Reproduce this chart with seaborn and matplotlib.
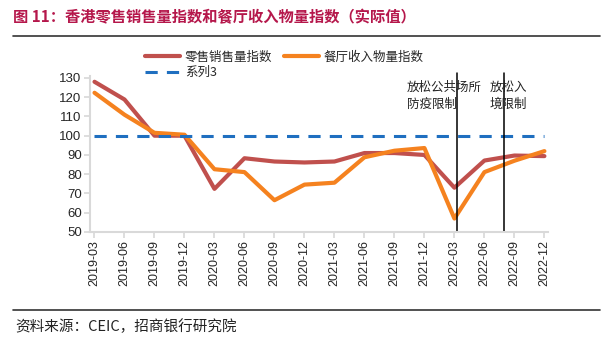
import numpy as np
import pandas as pd
import matplotlib
matplotlib.use("Agg")
import matplotlib.pyplot as plt
import seaborn as sns
from matplotlib.lines import Line2D

quarters = ["2019-03", "2019-06", "2019-09", "2019-12", "2020-03", "2020-06", "2020-09", "2020-12",
            "2021-03", "2021-06", "2021-09", "2021-12", "2022-03", "2022-06", "2022-09", "2022-12"]
retail = [128, 118.8, 100, 100, 72.4, 88.3, 86.6, 86.1, 86.6, 91, 91, 90, 73, 87.1, 89.7, 89.4]
restaurant = [122.3, 110.9, 101.5, 100.5, 82.6, 81.1, 66.5, 74.6, 75.6, 88.8, 92.2, 93.6, 57, 81.1, 87, 92]
series3 = [100] * 16
vlines = [12.1, 13.65]
names = ["零售销售量指数", "餐厅收入物量指数", "系列3"]

sns.set_theme(style="white")
plt.rcParams['font.family'] = ['Liberation Sans', 'Noto Sans CJK SC', 'DejaVu Sans']

fig = plt.figure(figsize=(6.09, 3.43), dpi=100)
W, H = 609, 343
ax = fig.add_axes([90 / W, 1 - 232 / H, (548 - 90) / W, (232 - 76) / H])

df = pd.DataFrame({"i": np.arange(len(quarters)), "retail": retail,
                   "restaurant": restaurant, "s3": series3})
c_red = "#C0504D"
c_org = "#F5821F"
c_blu = "#1F6FC0"
sns.lineplot(data=df, x="i", y="retail", ax=ax, color=c_red, lw=3)
sns.lineplot(data=df, x="i", y="restaurant", ax=ax, color=c_org, lw=3)
sns.lineplot(data=df, x="i", y="s3", ax=ax, color=c_blu, lw=2.2, linestyle=(0, (4, 3)))

for v in vlines:
    ax.plot([v, v], [50, 132.6], color="black", lw=1.1, clip_on=False)

ax.set_xlim(-0.15, 15.12)
ax.set_ylim(50, 131)
ax.set_yticks(range(50, 131, 10))
ax.set_xticks(range(len(quarters)))
ax.set_xticklabels(quarters, rotation=90, fontsize=9)
ax.tick_params(axis='y', labelsize=9.5, length=4, color="#D9D9D9", direction="out", left=True, pad=2)
ax.tick_params(axis='x', length=4, color="#D9D9D9", direction="out", bottom=True, pad=2)
ax.set_xlabel("")
ax.set_ylabel("")
for s in ["top", "right"]:
    ax.spines[s].set_visible(False)
for s in ["left", "bottom"]:
    ax.spines[s].set_color("#D9D9D9")
    ax.spines[s].set_linewidth(1.5)

cjk = ['Noto Sans CJK SC', 'DejaVu Sans']
ax.text(407 / W, 1 - 95.5 / H, "放松公共场所\n防疫限制", transform=fig.transFigure, fontsize=9,
        family=cjk, va="center", ha="left", linespacing=1.4, color="#222222")
ax.text(490 / W, 1 - 95.5 / H, "放松入\n境限制", transform=fig.transFigure, fontsize=9,
        family=cjk, va="center", ha="left", linespacing=1.4, color="#222222")

handles = [Line2D([], [], color=c_red, lw=3), Line2D([], [], color=c_blu, lw=2.2, linestyle=(0, (4, 3))),
           Line2D([], [], color=c_org, lw=3)]
labels = [names[0], names[2], names[1]]
fig.legend(handles, labels, loc="upper left", bbox_to_anchor=(136 / W, 1 - 42 / H), ncol=2,
           frameon=False, prop={'family': cjk, 'size': 9}, handlelength=2.8, handletextpad=0.4,
           columnspacing=0.9, labelspacing=0.2, borderpad=0.2)

fig.text(13 / W, 1 - 17 / H, "图 11：香港零售销售量指数和餐厅收入物量指数（实际值）", color="#B5174B",
         fontsize=11, fontweight="bold", family=cjk, va="center", ha="left")
fig.add_artist(Line2D([13 / W, 600 / W], [1 - 36 / H, 1 - 36 / H], color="#333333", lw=1.2))
fig.add_artist(Line2D([13 / W, 600 / W], [1 - 310 / H, 1 - 310 / H], color="#333333", lw=1.2))
fig.text(15 / W, 1 - 327 / H, "资料来源：CEIC，招商银行研究院", fontsize=10.5, family=cjk,
         va="center", ha="left", color="#222222")

fig.savefig("out.png", dpi=100)
